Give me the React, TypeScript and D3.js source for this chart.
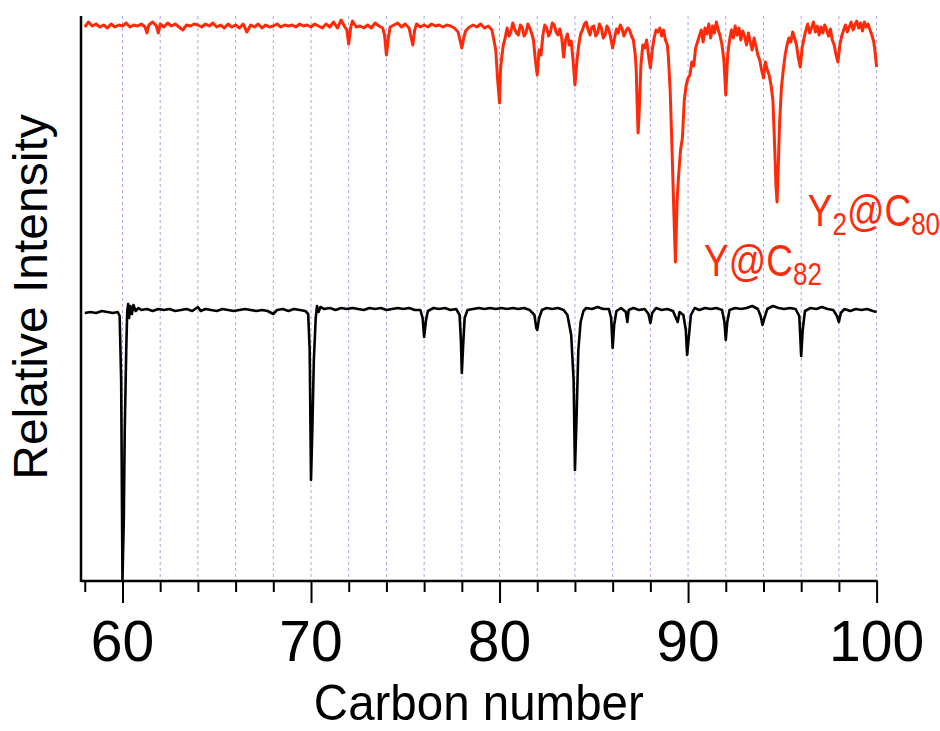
import React, { useEffect, useRef } from 'react';
import * as d3 from 'd3';

// carbon number axis
const tickValues = [58, 60, 62, 64, 66, 68, 70, 72, 74, 76, 78, 80, 82, 84, 86, 88, 90, 92, 94, 96, 98, 100];
const majorTicks = [60, 70, 80, 90, 100];
const gridValues = [60, 62, 64, 66, 68, 70, 72, 74, 76, 78, 80, 82, 84, 86, 88, 90, 92, 94, 96, 98, 100];

// metallofullerene extract (red trace), [carbon number, intensity]
const redTrace: [number, number][] = [
  [58.0, 554], [58.2, 559], [58.4, 555], [58.6, 557], [58.8, 554], [59.0, 556], [59.2, 553], [59.4, 557],
  [59.6, 554], [59.8, 556], [60.0, 555], [60.2, 558], [60.4, 554], [60.6, 556], [60.8, 555], [61.0, 557],
  [61.2, 554], [61.3, 548], [61.4, 556], [61.6, 559], [61.8, 555], [61.9, 548], [62.0, 557], [62.2, 554],
  [62.4, 558], [62.6, 555], [62.8, 557], [63.0, 554], [63.2, 551], [63.4, 556], [63.6, 555], [63.8, 557],
  [64.0, 556], [64.2, 554], [64.4, 557], [64.6, 555], [64.8, 558], [65.0, 554], [65.2, 556], [65.4, 553],
  [65.6, 557], [65.8, 554], [66.0, 556], [66.2, 553], [66.4, 557], [66.6, 549], [66.8, 556], [67.0, 554],
  [67.2, 557], [67.4, 553], [67.6, 556], [67.8, 554], [68.0, 555], [68.2, 557], [68.4, 554], [68.6, 556],
  [68.8, 555], [69.0, 556], [69.2, 554], [69.4, 557], [69.6, 555], [69.8, 556], [70.0, 554], [70.2, 557],
  [70.4, 555], [70.6, 553], [70.8, 557], [71.0, 554], [71.2, 559], [71.4, 553], [71.6, 561], [71.8, 554],
  [71.9, 551], [72.0, 537], [72.1, 553], [72.2, 560], [72.4, 554], [72.6, 555], [72.8, 553], [73.0, 556],
  [73.2, 553], [73.4, 558], [73.6, 555], [73.8, 553], [73.9, 546], [74.0, 526], [74.1, 543], [74.2, 554],
  [74.4, 556], [74.6, 558], [74.8, 554], [75.0, 557], [75.2, 553], [75.4, 536], [75.5, 551], [75.6, 557],
  [75.8, 554], [76.0, 556], [76.2, 554], [76.4, 557], [76.6, 555], [76.8, 556], [77.0, 554], [77.2, 556],
  [77.4, 555], [77.6, 553], [77.8, 549], [78.0, 533], [78.1, 543], [78.2, 550], [78.4, 554], [78.6, 556],
  [78.8, 554], [79.0, 557], [79.2, 553], [79.4, 555], [79.6, 551], [79.8, 531], [79.9, 501], [80.0, 478],
  [80.05, 511], [80.1, 521], [80.2, 536], [80.3, 543], [80.4, 553], [80.5, 545], [80.6, 549], [80.7, 558],
  [80.8, 552], [80.9, 548], [81.0, 546], [81.1, 556], [81.2, 554], [81.3, 545], [81.4, 548], [81.5, 557],
  [81.6, 553], [81.7, 548], [81.8, 541], [81.9, 521], [82.0, 506], [82.1, 531], [82.2, 526], [82.3, 546],
  [82.4, 556], [82.5, 553], [82.6, 545], [82.7, 549], [82.8, 558], [82.9, 556], [83.0, 549], [83.1, 546],
  [83.2, 552], [83.3, 543], [83.4, 524], [83.5, 541], [83.6, 547], [83.7, 536], [83.8, 540], [83.9, 521],
  [84.0, 496], [84.1, 519], [84.2, 536], [84.3, 547], [84.4, 551], [84.5, 557], [84.6, 559], [84.7, 551],
  [84.8, 546], [84.9, 554], [85.0, 555], [85.1, 545], [85.2, 548], [85.3, 557], [85.4, 553], [85.5, 543],
  [85.6, 546], [85.7, 555], [85.8, 551], [85.9, 543], [86.0, 533], [86.1, 543], [86.2, 552], [86.3, 548],
  [86.4, 556], [86.5, 552], [86.6, 545], [86.7, 550], [86.8, 553], [86.9, 551], [87.0, 545], [87.1, 541],
  [87.2, 526], [87.25, 511], [87.3, 476], [87.35, 448], [87.4, 466], [87.45, 491], [87.5, 516], [87.55, 526],
  [87.6, 536], [87.7, 533], [87.8, 541], [87.9, 526], [88.0, 513], [88.1, 531], [88.2, 543], [88.3, 551],
  [88.4, 549], [88.5, 553], [88.6, 545], [88.7, 551], [88.8, 541], [88.9, 536], [88.95, 526], [89.05, 491],
  [89.15, 431], [89.25, 366], [89.33, 319], [89.42, 381], [89.5, 406], [89.6, 431], [89.7, 443], [89.8, 481],
  [89.9, 496], [90.0, 503], [90.1, 506], [90.2, 519], [90.3, 515], [90.4, 533], [90.5, 539], [90.6, 545],
  [90.7, 551], [90.8, 539], [90.9, 553], [91.0, 547], [91.1, 557], [91.2, 543], [91.3, 555], [91.4, 548],
  [91.5, 559], [91.6, 551], [91.7, 545], [91.8, 536], [91.9, 521], [92.0, 486], [92.1, 526], [92.2, 541],
  [92.3, 551], [92.4, 543], [92.5, 555], [92.6, 546], [92.7, 553], [92.8, 541], [92.9, 550], [93.0, 545],
  [93.1, 536], [93.2, 548], [93.3, 539], [93.4, 531], [93.5, 543], [93.6, 535], [93.7, 526], [93.8, 521],
  [93.9, 511], [94.0, 503], [94.1, 519], [94.2, 511], [94.3, 506], [94.4, 496], [94.5, 481], [94.6, 431],
  [94.66, 396], [94.72, 379], [94.78, 411], [94.85, 456], [94.95, 493], [95.05, 511], [95.15, 526], [95.25, 536],
  [95.35, 543], [95.45, 539], [95.55, 549], [95.65, 543], [95.75, 536], [95.85, 523], [95.95, 514], [96.05, 533],
  [96.15, 543], [96.25, 551], [96.35, 557], [96.45, 548], [96.55, 553], [96.65, 559], [96.75, 549], [96.85, 555],
  [96.95, 546], [97.05, 554], [97.15, 548], [97.25, 556], [97.35, 551], [97.45, 545], [97.55, 552], [97.65, 541],
  [97.75, 536], [97.85, 526], [97.95, 519], [98.05, 536], [98.15, 545], [98.25, 551], [98.35, 556], [98.45, 549],
  [98.55, 554], [98.65, 559], [98.75, 551], [98.85, 556], [98.95, 560], [99.05, 553], [99.15, 558], [99.25, 550],
  [99.35, 559], [99.45, 554], [99.55, 557], [99.65, 551], [99.75, 546], [99.85, 539], [99.92, 529], [100.0, 514],
];

// empty-fullerene soot (black trace), [carbon number, intensity]
const blackTrace: [number, number][] = [
  [58.0, 268], [58.3, 269], [58.6, 268], [58.9, 270], [59.2, 269], [59.5, 268], [59.75, 269], [59.85, 265],
  [59.93, 201], [60.0, 1], [60.07, 61], [60.12, 151], [60.2, 231], [60.25, 269], [60.3, 277], [60.35, 263],
  [60.42, 275], [60.5, 267], [60.58, 276], [60.7, 270], [60.85, 273], [61.0, 271], [61.3, 272], [61.6, 270],
  [61.9, 272], [62.2, 271], [62.5, 272], [62.8, 270], [63.1, 271], [63.4, 272], [63.7, 270], [64.0, 274],
  [64.15, 270], [64.4, 272], [64.7, 271], [65.0, 270], [65.3, 272], [65.6, 271], [65.9, 270], [66.2, 271],
  [66.5, 272], [66.8, 271], [67.1, 270], [67.4, 271], [67.7, 270], [68.0, 267], [68.2, 271], [68.5, 272],
  [68.8, 270], [69.1, 272], [69.4, 271], [69.7, 270], [69.85, 267], [69.93, 231], [70.0, 101], [70.07, 151],
  [70.15, 221], [70.25, 263], [70.32, 275], [70.4, 269], [70.5, 274], [70.7, 272], [71.0, 273], [71.3, 271],
  [71.6, 273], [71.9, 272], [72.2, 273], [72.5, 272], [72.8, 271], [73.1, 273], [73.4, 272], [73.7, 273],
  [74.0, 271], [74.3, 272], [74.6, 273], [74.9, 272], [75.2, 273], [75.5, 271], [75.8, 271], [75.92, 263],
  [76.0, 244], [76.1, 261], [76.2, 270], [76.5, 273], [76.8, 272], [77.1, 273], [77.4, 271], [77.7, 272],
  [77.88, 266], [77.95, 241], [78.0, 208], [78.07, 236], [78.15, 263], [78.3, 271], [78.6, 272], [78.9, 273],
  [79.2, 272], [79.5, 273], [79.8, 272], [80.1, 273], [80.4, 272], [80.7, 273], [81.0, 272], [81.3, 273],
  [81.6, 271], [81.85, 266], [81.95, 253], [82.0, 251], [82.1, 263], [82.25, 271], [82.5, 273], [82.8, 272],
  [83.1, 273], [83.4, 271], [83.6, 266], [83.8, 246], [83.93, 201], [84.0, 111], [84.08, 161], [84.18, 231],
  [84.3, 259], [84.45, 270], [84.6, 273], [84.9, 272], [85.2, 274], [85.5, 272], [85.8, 272], [85.92, 263],
  [86.0, 233], [86.08, 256], [86.2, 270], [86.45, 273], [86.7, 269], [86.78, 259], [86.85, 271], [87.1, 273],
  [87.4, 271], [87.7, 272], [87.9, 267], [88.0, 258], [88.1, 268], [88.3, 273], [88.6, 271], [88.9, 272],
  [89.2, 270], [89.45, 259], [89.55, 269], [89.75, 266], [89.88, 251], [89.95, 226], [90.05, 246], [90.15, 266],
  [90.35, 273], [90.6, 271], [90.9, 273], [91.2, 272], [91.5, 273], [91.8, 271], [91.93, 259], [92.0, 241],
  [92.08, 259], [92.2, 271], [92.5, 273], [92.8, 272], [93.1, 273], [93.4, 275], [93.7, 272], [93.85, 265],
  [93.95, 256], [94.05, 263], [94.2, 272], [94.5, 275], [94.8, 273], [95.1, 272], [95.4, 273], [95.7, 272],
  [95.9, 265], [96.0, 225], [96.08, 251], [96.2, 270], [96.5, 273], [96.8, 272], [97.1, 274], [97.4, 272],
  [97.7, 271], [97.9, 265], [98.0, 259], [98.1, 268], [98.3, 272], [98.6, 270], [98.9, 272], [99.2, 271],
  [99.5, 272], [99.8, 270], [100.0, 269],
];

const RED = '#ff2a0a';
const FONT = '"Liberation Sans", Arial, Helvetica, sans-serif';

const SpectrumChart = () => {
  const svgRef = useRef<SVGSVGElement>(null);

  useEffect(() => {
    const svg = d3.select(svgRef.current);
    svg.selectAll('*').remove();

    const left = 81, right = 876.6, top = 16, bottom = 581;
    const x = d3.scaleLinear().domain([57.8, 100]).range([left, right]);
    const y = d3.scaleLinear().domain([0, 565]).range([bottom, top]);

    // dashed grid
    svg.append('g')
      .selectAll('line')
      .data(gridValues)
      .enter()
      .append('line')
      .attr('x1', d => x(d))
      .attr('x2', d => x(d))
      .attr('y1', top)
      .attr('y2', bottom)
      .attr('stroke', '#a9a6e6')
      .attr('stroke-width', 1)
      .attr('stroke-dasharray', '3,3');

    const line = d3.line<[number, number]>()
      .x(d => x(d[0]))
      .y(d => y(d[1]));

    svg.append('path')
      .datum(blackTrace)
      .attr('d', line)
      .attr('fill', 'none')
      .attr('stroke', '#000')
      .attr('stroke-width', 2.6)
      .attr('stroke-linejoin', 'round');

    svg.append('path')
      .datum(redTrace)
      .attr('d', line)
      .attr('fill', 'none')
      .attr('stroke', RED)
      .attr('stroke-width', 3)
      .attr('stroke-linejoin', 'round');

    // axes
    svg.append('line')
      .attr('x1', left).attr('x2', left)
      .attr('y1', top).attr('y2', bottom + 1)
      .attr('stroke', '#000').attr('stroke-width', 2.5);

    const xAxis = d3.axisBottom(x)
      .tickValues(tickValues)
      .tickSize(11)
      .tickSizeOuter(0)
      .tickFormat(() => '');

    const gx = svg.append('g')
      .attr('transform', `translate(0, ${bottom})`)
      .call(xAxis);
    gx.select('.domain')
      .attr('d', `M${left},0H${right + 1}`)
      .attr('stroke-width', 2.5);
    gx.selectAll('.tick line')
      .attr('stroke-width', 2)
      .attr('y2', (d: any) => (majorTicks.includes(d) ? 22 : 11));

    svg.append('g')
      .selectAll('text')
      .data(majorTicks)
      .enter()
      .append('text')
      .attr('x', d => x(d))
      .attr('y', 661)
      .attr('text-anchor', 'middle')
      .attr('font-family', FONT)
      .attr('font-size', 57)
      .text(d => d);

    svg.append('text')
      .attr('transform', `translate(${(left + right) / 2}, 720) scale(0.95, 1)`)
      .attr('text-anchor', 'middle')
      .attr('font-family', FONT)
      .attr('font-size', 50)
      .text('Carbon number');

    svg.append('text')
      .attr('transform', 'translate(47, 297) rotate(-90)')
      .attr('text-anchor', 'middle')
      .attr('font-family', FONT)
      .attr('font-size', 48)
      .text('Relative Intensity');

    // peak labels
    const lab1 = svg.append('text')
      .attr('transform', `translate(${x(90.85)}, ${y(305)}) scale(0.84, 1)`)
      .attr('font-family', FONT)
      .attr('font-size', 44)
      .attr('fill', RED);
    lab1.append('tspan').text('Y@C');
    lab1.append('tspan').attr('font-size', 31).attr('dy', 9).text('82');

    const lab2 = svg.append('text')
      .attr('transform', `translate(${x(96.35)}, ${y(355)}) scale(0.84, 1)`)
      .attr('font-family', FONT)
      .attr('font-size', 44)
      .attr('fill', RED);
    lab2.append('tspan').text('Y');
    lab2.append('tspan').attr('font-size', 31).attr('dy', 9).text('2');
    lab2.append('tspan').attr('dy', -9).text('@C');
    lab2.append('tspan').attr('font-size', 31).attr('dy', 9).text('80');
  }, []);

  return (
    <svg
      ref={svgRef}
      width={940}
      height={731}
      style={{ position: 'absolute', left: 0, top: 0, background: '#fff' }}
    />
  );
};

export default function App() {
  return <SpectrumChart />;
}
